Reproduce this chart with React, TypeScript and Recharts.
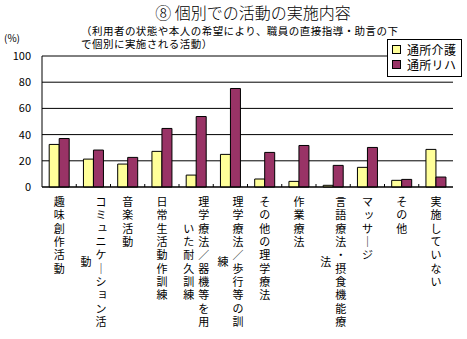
import React from 'react';
import { BarChart, Bar, XAxis, YAxis, CartesianGrid, Legend } from 'recharts';

const categories = [
  '趣味創作活動',
  'コミュニケーション活動',
  '音楽活動',
  '日常生活動作訓練',
  '理学療法／器機等を用いた耐久訓練',
  '理学療法／歩行等の訓練',
  'その他の理学療法',
  '作業療法',
  '言語療法・摂食機能療法',
  'マッサージ',
  'その他',
  '実施していない',
];
const kaigo = [32.5, 21.3, 17.5, 27.2, 9.1, 24.9, 6.1, 4.3, 1.3, 15.0, 5.1, 28.7];
const riha = [37.0, 28.2, 22.6, 44.7, 53.8, 75.2, 26.4, 31.7, 16.5, 30.2, 5.8, 7.6];
const yTicks = [0, 20, 40, 60, 80, 100];

const seriesNames = ['通所介護', '通所リハ'];
const seriesColors = ['#FFFF99', '#993366'];

const title = '⑧ 個別での活動の実施内容';
const subtitle = ['（利用者の状態や本人の希望により、職員の直接指導・助言の下', 'で個別に実施される活動）'];

const W = 467;
const H = 339;
const FONT = '"Noto Sans CJK JP", "Noto Sans", sans-serif';
const MARGIN = { top: 56, right: 14, left: 0, bottom: 0 };
const Y_WIDTH = 42;
const BAND = (W - MARGIN.left - MARGIN.right - Y_WIDTH) / categories.length;

const data = categories.map((name, i) => ({ name, kaigo: kaigo[i], riha: riha[i] }));

// vertical label, one char per row, 10 rows per column, overflow goes to a column on the left
function CatTick(props: any) {
  const { x, y, payload, index } = props;
  const text: string = payload.value.replace(/ー/g, '｜');
  const chars = Array.from(text);
  const cols: string[][] = [];
  for (let i = 0; i < chars.length; i += 10) cols.push(chars.slice(i, i + 10));
  const n = cols.length;
  const pitch = 13.33;
  return (
    <g>
      {index > 0 && (
        <line x1={x - BAND / 2} x2={x - BAND / 2} y1={y} y2={y - 3} stroke="#000" />
      )}
      {cols.map((col, ci) => {
        const cx = x + ((n - 1) / 2 - ci) * 15;
        const offset = ci === 0 ? 0 : ((cols[0].length - col.length) / 2) * pitch;
        return col.map((ch, ri) => {
          const small = 'ッュョァィゥェォャ'.includes(ch);
          return (
            <text
              key={`${ci}-${ri}`}
              x={cx + (small ? 1.5 : 0)}
              y={y + 14 + offset + ri * pitch - (small ? 1.5 : 0)}
              textAnchor="middle"
              dominantBaseline="central"
              fontSize={11}
              fontFamily={FONT}
              fill="#000"
            >
              {ch}
            </text>
          );
        });
      })}
    </g>
  );
}

function LegendBox() {
  return (
    <div
      style={{
        width: 73,
        height: 34,
        border: '1px solid #000',
        background: '#fff',
        fontFamily: FONT,
        fontSize: 12,
        paddingTop: 2,
        boxSizing: 'content-box',
      }}
    >
      {seriesNames.map((n, i) => (
        <div key={n} style={{ display: 'flex', alignItems: 'center', height: 15 }}>
          <span
            style={{
              display: 'inline-block',
              width: 7,
              height: 7,
              marginLeft: 4,
              marginRight: 6,
              background: seriesColors[i],
              border: '1px solid #000',
            }}
          />
          <span style={{ lineHeight: '15px', letterSpacing: 0.3 }}>{n}</span>
        </div>
      ))}
    </div>
  );
}

export default function App() {
  return (
    <div
      style={{
        position: 'absolute',
        left: 0,
        top: 0,
        width: W,
        height: H,
        background: '#fff',
        fontFamily: FONT,
        color: '#000',
      }}
    >
      <div
        style={{
          position: 'absolute',
          left: 40,
          width: 426,
          top: 2,
          textAlign: 'center',
          fontSize: 16,
          lineHeight: '20px',
          fontWeight: 300,
        }}
      >
        {title}
      </div>
      {subtitle.map((s, i) => (
        <div
          key={i}
          style={{
            position: 'absolute',
            left: 81,
            top: 24 + i * 13,
            fontSize: 10.5,
            lineHeight: '13px',
            letterSpacing: 0.47,
            whiteSpace: 'nowrap',
          }}
        >
          {s}
        </div>
      ))}
      <div style={{ position: 'absolute', left: 4, top: 31, fontSize: 10, lineHeight: '14px' }}>(%)</div>
      <div style={{ position: 'absolute', left: 0, top: 0 }}>
        <BarChart width={W} height={H} data={data} margin={MARGIN} barCategoryGap="21%" barGap={0}>
          <CartesianGrid vertical={false} stroke="#000" />
          <XAxis
            dataKey="name"
            interval={0}
            height={H - 187}
            axisLine={{ stroke: '#000' }}
            tickLine={false}
            tickSize={0}
            tickMargin={0}
            tick={<CatTick />}
          />
          <YAxis
            domain={[0, 100]}
            ticks={yTicks}
            width={Y_WIDTH}
            axisLine={{ stroke: '#000' }}
            tickLine={false}
            tickSize={0}
            tickMargin={11}
            tick={{ fill: '#000', fontSize: 11, fontFamily: FONT }}
          />
          <YAxis
            yAxisId="right"
            orientation="right"
            width={0}
            domain={[0, 100]}
            tick={false}
            tickLine={false}
            axisLine={{ stroke: '#000' }}
          />
          <Legend
            layout="vertical"
            align="center"
            verticalAlign="middle"
            content={() => <LegendBox />}
            wrapperStyle={{ left: 387, top: 39, width: 75, height: 36 }}
          />
          <Bar dataKey="kaigo" name={seriesNames[0]} fill={seriesColors[0]} stroke="#000" strokeWidth={1} isAnimationActive={false} />
          <Bar dataKey="riha" name={seriesNames[1]} fill={seriesColors[1]} stroke="#000" strokeWidth={1} isAnimationActive={false} />
        </BarChart>
      </div>
    </div>
  );
}
